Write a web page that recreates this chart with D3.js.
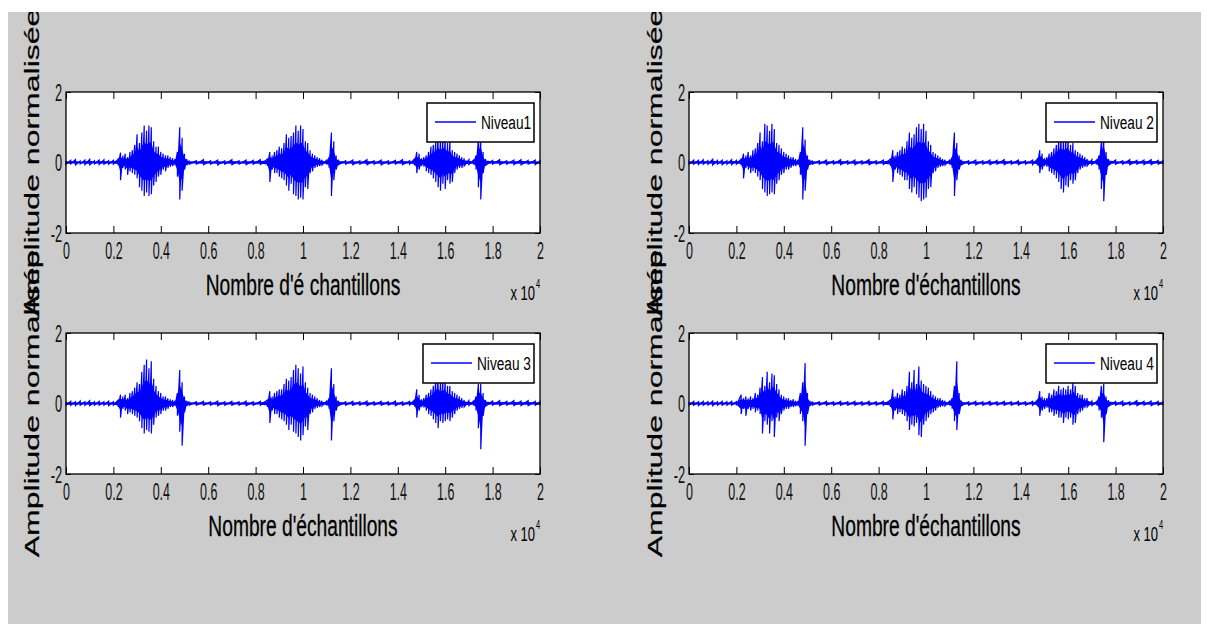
<!DOCTYPE html>
<html><head><meta charset="utf-8">
<script src="https://cdn.jsdelivr.net/npm/d3@7"></script>
<style>body{margin:0;background:#fff}svg{display:block}</style>
</head><body><svg id="c" width="1207" height="624"></svg>
<script>
// ---------------- data ----------------
const xTicks = [0,0.2,0.4,0.6,0.8,1,1.2,1.4,1.6,1.8,2];
const xTickLabels = ["0","0.2","0.4","0.6","0.8","1","1.2","1.4","1.6","1.8","2"];
const yTicks = [-2,0,2];
const yTickLabels = ["-2","0","2"];
const legendLabels = ["Niveau1","Niveau 2","Niveau 3","Niveau 4"];
const xLabels = ["Nombre d'é chantillons","Nombre d'échantillons","Nombre d'échantillons","Nombre d'échantillons"];
const yLabel = "Amplitude normalisée";
const xMultiplier = "x 10";
const xExponent = "4";

// [sample (x 10^4), upper envelope, lower envelope]
const level1 = [[0,.05,-.05],[.02,.06,-.04],[.04,.08,-.07],[.06,.04,-.04],[.08,.07,-.06],[.10,.09,-.07],[.12,.05,-.04],[.14,.07,-.06],[.16,.08,-.05],[.18,.05,-.05],[.20,.06,-.05],[.22,.1,-.08],[.23,.28,-.5],[.24,.2,-.15],[.25,.25,-.2],[.26,.15,-.35],[.27,.3,-.25],[.28,.35,-.3],[.29,.5,-.35],[.30,.8,-.45],[.31,.55,-.7],[.32,.85,-.8],[.33,1.05,-.95],[.34,.9,-.85],[.35,1.05,-.95],[.36,1.0,-.9],[.37,.6,-.65],[.38,.45,-.55],[.39,.45,-.4],[.40,.3,-.35],[.41,.25,-.2],[.42,.2,-.25],[.43,.2,-.15],[.44,.15,-.12],[.45,.12,-.1],[.46,.1,-.08],[.47,.3,-.4],[.48,1.0,-1.05],[.49,.7,-.8],[.50,.25,-.2],[.51,.1,-.08],[.52,.06,-.05],[.55,.05,-.05],[.58,.08,-.06],[.61,.05,-.05],[.64,.07,-.07],[.67,.05,-.05],[.70,.08,-.06],[.73,.05,-.05],[.76,.07,-.06],[.79,.06,-.05],[.82,.08,-.06],[.85,.1,-.1],[.86,.3,-.55],[.87,.2,-.2],[.88,.3,-.3],[.89,.35,-.3],[.90,.45,-.4],[.91,.4,-.45],[.92,.55,-.5],[.93,.8,-.65],[.94,.7,-.8],[.95,.75,-.6],[.96,.85,-.9],[.97,1.05,-.95],[.98,.9,-1.05],[.99,1.05,-1.0],[1.00,.95,-1.05],[1.01,.6,-.7],[1.02,.55,-.75],[1.03,.35,-.3],[1.04,.25,-.25],[1.05,.2,-.15],[1.06,.15,-.12],[1.07,.12,-.1],[1.08,.08,-.07],[1.10,.07,-.06],[1.11,.15,-.15],[1.12,.85,-.95],[1.13,.6,-.5],[1.14,.2,-.2],[1.15,.08,-.06],[1.18,.05,-.05],[1.21,.07,-.06],[1.24,.05,-.05],[1.27,.08,-.06],[1.30,.05,-.05],[1.33,.07,-.07],[1.36,.05,-.05],[1.39,.06,-.05],[1.42,.08,-.06],[1.45,.05,-.05],[1.47,.1,-.08],[1.48,.3,-.3],[1.49,.25,-.2],[1.50,.12,-.1],[1.51,.15,-.12],[1.52,.2,-.25],[1.53,.3,-.3],[1.54,.45,-.35],[1.55,.5,-.45],[1.56,.6,-.55],[1.57,.75,-.7],[1.58,.65,-.8],[1.59,.75,-.6],[1.60,.7,-.75],[1.61,.55,-.5],[1.62,.6,-.6],[1.63,.35,-.55],[1.64,.3,-.3],[1.65,.25,-.2],[1.66,.2,-.15],[1.67,.15,-.15],[1.68,.12,-.1],[1.70,.08,-.06],[1.72,.07,-.06],[1.73,.2,-.2],[1.74,.65,-.7],[1.75,.8,-1.05],[1.76,.3,-.3],[1.77,.1,-.08],[1.80,.06,-.05],[1.83,.08,-.06],[1.86,.05,-.05],[1.89,.07,-.06],[1.92,.08,-.07],[1.95,.06,-.05],[1.98,.07,-.06],[2.0,.05,-.05]];

const level2 = [[0,.05,-.05],[.02,.07,-.05],[.04,.06,-.06],[.06,.08,-.05],[.08,.05,-.05],[.10,.09,-.07],[.12,.06,-.05],[.14,.07,-.06],[.16,.05,-.05],[.18,.08,-.06],[.20,.06,-.05],[.22,.1,-.08],[.23,.25,-.45],[.24,.2,-.15],[.25,.3,-.2],[.26,.2,-.3],[.27,.35,-.25],[.28,.4,-.3],[.29,.55,-.4],[.30,.85,-.5],[.31,.6,-.75],[.32,1.1,-.85],[.33,1.05,-.95],[.34,.9,-.9],[.35,1.1,-.85],[.36,.95,-.9],[.37,.55,-.6],[.38,.5,-.5],[.39,.4,-.35],[.40,.3,-.3],[.41,.25,-.2],[.42,.2,-.2],[.43,.15,-.15],[.44,.15,-.1],[.45,.1,-.1],[.46,.08,-.07],[.47,.3,-.35],[.48,1.0,-1.05],[.49,.65,-.8],[.50,.2,-.2],[.51,.08,-.07],[.52,.06,-.05],[.55,.05,-.05],[.58,.07,-.06],[.61,.05,-.05],[.64,.08,-.06],[.67,.05,-.05],[.70,.07,-.06],[.73,.05,-.05],[.76,.08,-.06],[.79,.05,-.05],[.82,.07,-.06],[.85,.1,-.1],[.86,.35,-.55],[.87,.2,-.2],[.88,.3,-.3],[.89,.35,-.35],[.90,.45,-.4],[.91,.4,-.5],[.92,.6,-.5],[.93,.85,-.75],[.94,.7,-.85],[.95,.8,-.7],[.96,1.0,-.9],[.97,1.1,-1.0],[.98,.95,-1.1],[.99,1.1,-1.05],[1.00,.9,-1.0],[1.01,.6,-.75],[1.02,.5,-.7],[1.03,.3,-.3],[1.04,.25,-.25],[1.05,.2,-.15],[1.06,.15,-.12],[1.07,.1,-.1],[1.08,.08,-.07],[1.10,.07,-.06],[1.11,.15,-.15],[1.12,.85,-.95],[1.13,.55,-.5],[1.14,.2,-.2],[1.15,.08,-.06],[1.18,.05,-.05],[1.21,.07,-.06],[1.24,.05,-.05],[1.27,.07,-.06],[1.30,.06,-.05],[1.33,.08,-.06],[1.36,.05,-.05],[1.39,.07,-.06],[1.42,.05,-.05],[1.45,.07,-.06],[1.47,.1,-.08],[1.48,.35,-.3],[1.49,.25,-.2],[1.50,.12,-.1],[1.51,.15,-.12],[1.52,.25,-.25],[1.53,.3,-.3],[1.54,.4,-.35],[1.55,.5,-.45],[1.56,.65,-.55],[1.57,.75,-.75],[1.58,.6,-.85],[1.59,.75,-.65],[1.60,.7,-.7],[1.61,.5,-.5],[1.62,.55,-.6],[1.63,.35,-.5],[1.64,.3,-.3],[1.65,.25,-.2],[1.66,.2,-.15],[1.67,.15,-.12],[1.68,.1,-.1],[1.70,.08,-.06],[1.72,.07,-.06],[1.73,.2,-.2],[1.74,.6,-.75],[1.75,.85,-1.1],[1.76,.3,-.35],[1.77,.1,-.08],[1.80,.07,-.05],[1.83,.05,-.05],[1.86,.08,-.06],[1.89,.06,-.05],[1.92,.07,-.06],[1.95,.08,-.06],[1.98,.06,-.05],[2.0,.05,-.05]];

const level3 = [[0,.05,-.05],[.02,.06,-.05],[.04,.05,-.06],[.06,.07,-.05],[.08,.05,-.05],[.10,.08,-.06],[.12,.05,-.05],[.14,.06,-.05],[.16,.05,-.05],[.18,.07,-.06],[.20,.05,-.05],[.22,.1,-.1],[.23,.25,-.4],[.24,.2,-.15],[.25,.25,-.2],[.26,.15,-.3],[.27,.3,-.25],[.28,.35,-.3],[.29,.45,-.35],[.30,.6,-.4],[.31,.55,-.5],[.32,.9,-.7],[.33,1.1,-.85],[.34,1.25,-.75],[.35,1.0,-.8],[.36,1.2,-.85],[.37,.7,-.6],[.38,.5,-.4],[.39,.35,-.35],[.40,.3,-.3],[.41,.2,-.2],[.42,.2,-.2],[.43,.15,-.15],[.44,.12,-.1],[.45,.1,-.1],[.46,.08,-.07],[.47,.3,-.35],[.48,.95,-.8],[.49,.6,-1.2],[.50,.2,-.25],[.51,.08,-.07],[.52,.06,-.05],[.55,.05,-.05],[.58,.06,-.05],[.61,.05,-.05],[.64,.07,-.06],[.67,.05,-.05],[.70,.06,-.05],[.73,.05,-.05],[.76,.07,-.06],[.79,.05,-.05],[.82,.06,-.05],[.85,.1,-.1],[.86,.35,-.55],[.87,.2,-.2],[.88,.3,-.3],[.89,.35,-.3],[.90,.4,-.4],[.91,.4,-.45],[.92,.55,-.5],[.93,.7,-.6],[.94,.65,-.75],[.95,.75,-.6],[.96,.95,-.8],[.97,1.1,-.85],[.98,1.0,-.95],[.99,.85,-1.05],[1.00,1.05,-.9],[1.01,.6,-.65],[1.02,.45,-.75],[1.03,.3,-.3],[1.04,.25,-.25],[1.05,.2,-.15],[1.06,.15,-.12],[1.07,.1,-.1],[1.08,.08,-.07],[1.10,.07,-.06],[1.11,.15,-.15],[1.12,1.0,-1.05],[1.13,.55,-.5],[1.14,.2,-.2],[1.15,.08,-.06],[1.18,.05,-.05],[1.21,.06,-.05],[1.24,.05,-.05],[1.27,.07,-.06],[1.30,.05,-.05],[1.33,.06,-.05],[1.36,.05,-.05],[1.39,.07,-.06],[1.42,.05,-.05],[1.45,.06,-.05],[1.47,.1,-.08],[1.48,.4,-.4],[1.49,.25,-.2],[1.50,.12,-.1],[1.51,.15,-.12],[1.52,.25,-.2],[1.53,.3,-.3],[1.54,.4,-.35],[1.55,.5,-.45],[1.56,.7,-.55],[1.57,.75,-.7],[1.58,.6,-.5],[1.59,.7,-.55],[1.60,.65,-.5],[1.61,.5,-.45],[1.62,.5,-.5],[1.63,.35,-.4],[1.64,.3,-.3],[1.65,.25,-.2],[1.66,.2,-.15],[1.67,.15,-.12],[1.68,.1,-.1],[1.70,.08,-.06],[1.72,.07,-.06],[1.73,.2,-.2],[1.74,.55,-.7],[1.75,.55,-1.3],[1.76,.3,-.35],[1.77,.1,-.08],[1.80,.07,-.05],[1.83,.08,-.06],[1.86,.06,-.05],[1.89,.08,-.06],[1.92,.07,-.06],[1.95,.08,-.06],[1.98,.06,-.05],[2.0,.05,-.05]];

const level4 = [[0,.05,-.05],[.02,.06,-.05],[.04,.05,-.06],[.06,.06,-.05],[.08,.05,-.05],[.10,.07,-.06],[.12,.05,-.05],[.14,.06,-.05],[.16,.05,-.05],[.18,.06,-.05],[.20,.05,-.05],[.22,.25,-.3],[.23,.15,-.15],[.24,.2,-.35],[.25,.15,-.15],[.26,.2,-.2],[.27,.15,-.15],[.28,.3,-.25],[.29,.25,-.2],[.30,.45,-.3],[.31,.75,-.85],[.32,.5,-.5],[.33,.9,-.6],[.34,.6,-.85],[.35,.85,-.5],[.36,.8,-.95],[.37,.55,-.4],[.38,.4,-.5],[.39,.25,-.3],[.40,.2,-.2],[.41,.15,-.15],[.42,.15,-.15],[.43,.1,-.1],[.44,.12,-.1],[.45,.08,-.08],[.46,.07,-.07],[.47,.3,-.3],[.48,.6,-.5],[.49,1.15,-1.2],[.50,.3,-.3],[.51,.08,-.07],[.52,.06,-.05],[.55,.05,-.05],[.58,.06,-.05],[.61,.05,-.05],[.64,.06,-.05],[.67,.05,-.05],[.70,.06,-.05],[.73,.05,-.05],[.76,.06,-.05],[.79,.05,-.05],[.82,.06,-.05],[.85,.1,-.1],[.86,.4,-.45],[.87,.2,-.2],[.88,.3,-.3],[.89,.25,-.25],[.90,.4,-.3],[.91,.35,-.35],[.92,.5,-.5],[.93,.9,-.75],[.94,.6,-.6],[.95,.95,-.65],[.96,.55,-.55],[.97,1.05,-.9],[.98,.65,-.95],[.99,.55,-.6],[1.00,.5,-.5],[1.01,.45,-.4],[1.02,.35,-.3],[1.03,.25,-.25],[1.04,.2,-.2],[1.05,.15,-.12],[1.06,.15,-.1],[1.07,.1,-.08],[1.08,.08,-.07],[1.10,.07,-.06],[1.11,.15,-.15],[1.12,.5,-.5],[1.13,1.2,-.75],[1.14,.3,-.3],[1.15,.08,-.06],[1.18,.05,-.05],[1.21,.06,-.05],[1.24,.05,-.05],[1.27,.06,-.05],[1.30,.05,-.05],[1.33,.06,-.05],[1.36,.05,-.05],[1.39,.06,-.05],[1.42,.05,-.05],[1.45,.06,-.05],[1.47,.1,-.08],[1.48,.35,-.35],[1.49,.2,-.2],[1.50,.15,-.15],[1.51,.15,-.12],[1.52,.3,-.25],[1.53,.25,-.25],[1.54,.4,-.35],[1.55,.35,-.3],[1.56,.5,-.4],[1.57,.4,-.4],[1.58,.45,-.55],[1.59,.4,-.4],[1.60,.5,-.45],[1.61,.4,-.4],[1.62,.6,-.6],[1.63,.5,-.55],[1.64,.3,-.3],[1.65,.25,-.25],[1.66,.25,-.2],[1.67,.15,-.12],[1.68,.15,-.1],[1.70,.07,-.06],[1.72,.06,-.05],[1.73,.2,-.2],[1.74,.5,-.4],[1.75,.55,-1.1],[1.76,.2,-.3],[1.77,.1,-.08],[1.80,.06,-.05],[1.83,.07,-.06],[1.86,.05,-.05],[1.89,.08,-.06],[1.92,.06,-.05],[1.95,.07,-.06],[1.98,.06,-.05],[2.0,.05,-.05]];

const levels = [level1, level2, level3, level4];

// ---------------- layout ----------------
const panels = [
  {x0:66,  x1:540,  y0:92,  y1:233, legendW:107},
  {x0:689, x1:1163, y0:92,  y1:233, legendW:111},
  {x0:66,  x1:540,  y0:333, y1:474, legendW:111},
  {x0:689, x1:1163, y0:333, y1:474, legendW:111}
];
const FONT = "'Liberation Sans', Arial, sans-serif";
const BLUE = "#0000ff";

const svg = d3.select("#c");
const defs = svg.append("defs");
defs.append("clipPath").attr("id","fig").append("rect")
  .attr("x",8).attr("y",12).attr("width",1193).attr("height",612);

const fig = svg.append("g").attr("clip-path","url(#fig)");
fig.append("rect").attr("x",8).attr("y",12).attr("width",1193).attr("height",612).attr("fill","#cccccc");

panels.forEach((p, i) => {
  const data = levels[i];
  const x = d3.scaleLinear().domain([0,2]).range([p.x0,p.x1]);
  const y = d3.scaleLinear().domain([-2,2]).range([p.y1,p.y0]);
  const g = fig.append("g");

  g.append("rect").attr("x",p.x0).attr("y",p.y0).attr("width",p.x1-p.x0).attr("height",p.y1-p.y0)
    .attr("fill","#fff");

  // signal: a light envelope plus the oscillating trace (upper/lower extremes alternate)
  const area = d3.area().x(d=>x(d[0])).y0(d=>y(d[2]*0.55)).y1(d=>y(d[1]*0.55));
  g.append("path").datum(data).attr("d",area).attr("fill",BLUE).attr("stroke","none");
  const trace = data.flatMap(d => [[d[0], d[1]], [d[0], d[2]]]);
  const line = d3.line().x(d=>x(d[0])).y(d=>y(d[1]));
  g.append("path").datum(trace).attr("d",line).attr("fill","none")
    .attr("stroke",BLUE).attr("stroke-width",1.2).attr("stroke-linejoin","miter");

  // axes
  const axB = d3.axisBottom(x).tickValues(xTicks).tickFormat((d,k)=>xTickLabels[k]).tickSizeInner(-7).tickSizeOuter(0).tickPadding(9);
  const gB = g.append("g").attr("transform",`translate(0,${p.y1})`).call(axB);
  const axT = d3.axisTop(x).tickValues(xTicks).tickFormat("").tickSizeInner(-7).tickSizeOuter(0);
  const gT = g.append("g").attr("transform",`translate(0,${p.y0})`).call(axT);
  const axL = d3.axisLeft(y).tickValues(yTicks).tickFormat((d,k)=>yTickLabels[k]).tickSizeInner(-5).tickSizeOuter(0).tickPadding(7);
  const gL = g.append("g").attr("transform",`translate(${p.x0},0)`).call(axL);
  const axR = d3.axisRight(y).tickValues(yTicks).tickFormat("").tickSizeInner(-5).tickSizeOuter(0);
  const gR = g.append("g").attr("transform",`translate(${p.x1},0)`).call(axR);
  [gB,gT,gL,gR].forEach(a=>{
    a.select(".domain").remove();
    a.selectAll("line").attr("stroke","#000").attr("stroke-width",1);
  });
  gB.selectAll("text").attr("font-family",FONT).attr("font-size",24).attr("fill","#111")
    .attr("transform","scale(0.52,1)");
  gL.selectAll("text").attr("font-family",FONT).attr("font-size",23).attr("fill","#111")
    .attr("dy","0.36em").attr("transform","scale(0.56,1)");

  // frame
  g.append("rect").attr("x",p.x0).attr("y",p.y0).attr("width",p.x1-p.x0).attr("height",p.y1-p.y0)
    .attr("fill","none").attr("stroke","#000").attr("stroke-width",1.3);

  // x label
  const cx = (p.x0+p.x1)/2;
  g.append("text").attr("transform",`translate(${cx},${p.y1+62}) scale(0.64,1)`)
    .attr("text-anchor","middle").attr("font-family",FONT).attr("font-size",30).attr("fill","#000")
    .attr("stroke","#000").attr("stroke-width",0.3)
    .text(xLabels[i]);
  // multiplier
  g.append("text").attr("transform",`translate(${p.x1-5},${p.y1+67}) scale(0.62,1)`)
    .attr("text-anchor","end").attr("font-family",FONT).attr("font-size",21).attr("fill","#000")
    .text(xMultiplier);
  g.append("text").attr("transform",`translate(${p.x1-4},${p.y1+55}) scale(0.62,1)`)
    .attr("font-family",FONT).attr("font-size",12).attr("fill","#000").text(xExponent);

  // legend
  const lx = p.x1-6-p.legendW, ly = p.y0+11;
  g.append("rect").attr("x",lx).attr("y",ly).attr("width",p.legendW).attr("height",39)
    .attr("fill","#fff").attr("stroke","#000").attr("stroke-width",1.5);
  g.append("line").attr("x1",lx+8).attr("x2",lx+49).attr("y1",ly+19).attr("y2",ly+19)
    .attr("stroke",BLUE).attr("stroke-width",1.5);
  g.append("text").attr("transform",`translate(${lx+54},${ly+26}) scale(0.72,1)`)
    .attr("font-family",FONT).attr("font-size",19).attr("fill","#000").text(legendLabels[i]);
});

// y labels drawn last so they overlap like the original
panels.forEach((p) => {
  const cy = (p.y0+p.y1)/2;
  fig.append("text").attr("transform",`translate(${p.x0-27},${cy}) rotate(-90) scale(1,0.66)`)
    .attr("text-anchor","middle").attr("font-family",FONT).attr("font-size",32).attr("fill","#000")
    .attr("stroke","#000").attr("stroke-width",0.3)
    .text(yLabel);
});
</script>
</body></html>
